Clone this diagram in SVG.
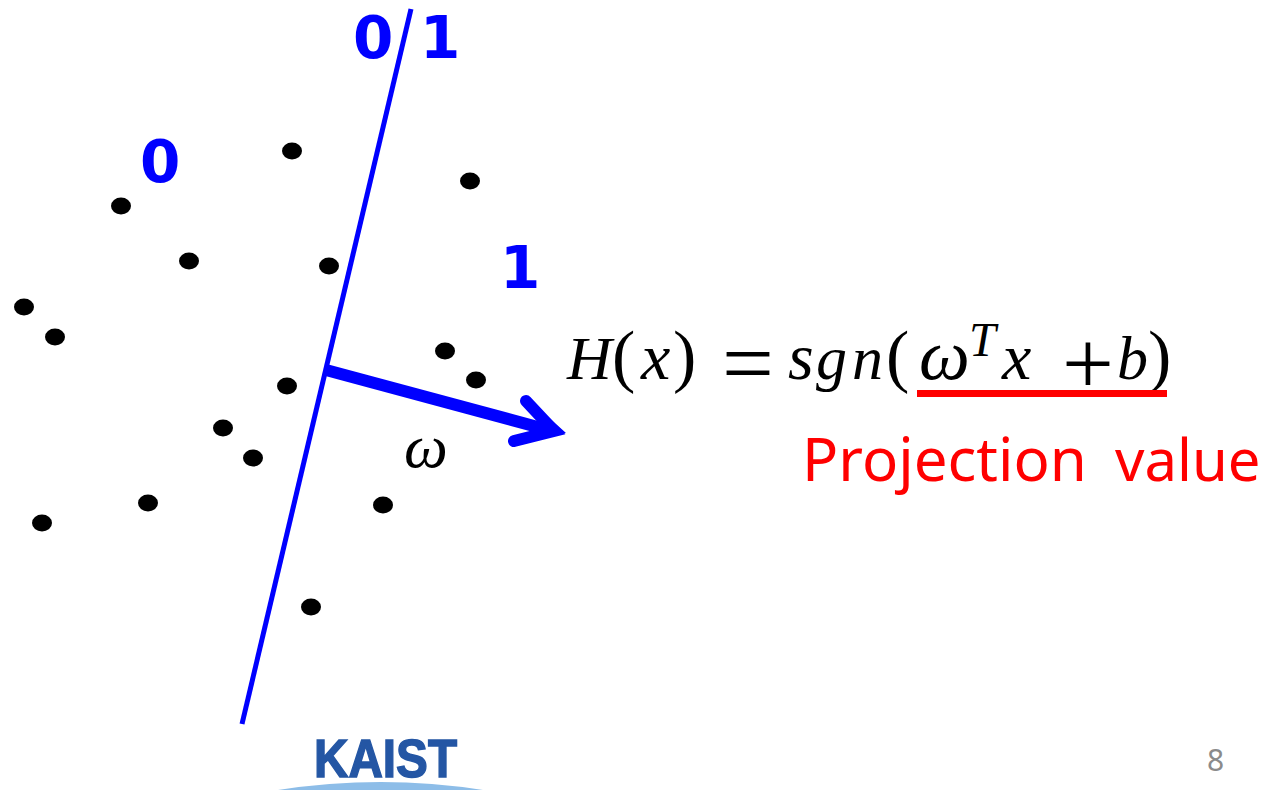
<svg xmlns="http://www.w3.org/2000/svg" width="1278" height="790" viewBox="0 0 1278 790">
<style>
.dot{fill:#000}
.b{font-family:"DejaVu Sans",sans-serif;font-weight:700;font-size:58px;fill:#0000ff}
.m{font-family:"Liberation Serif",serif;font-style:italic;fill:#000}
.u{font-family:"Liberation Serif",serif;fill:#000}
</style>
<rect width="1278" height="790" fill="#fff"/>
<g id="points">
<ellipse class="dot" cx="292" cy="151" rx="10" ry="8.500"/>
<ellipse class="dot" cx="470" cy="181" rx="10" ry="8.500"/>
<ellipse class="dot" cx="121" cy="206" rx="10" ry="8.500"/>
<ellipse class="dot" cx="189" cy="261" rx="10" ry="8.500"/>
<ellipse class="dot" cx="329" cy="266" rx="10" ry="8.500"/>
<ellipse class="dot" cx="24" cy="307" rx="10" ry="8.500"/>
<ellipse class="dot" cx="55" cy="337" rx="10" ry="8.500"/>
<ellipse class="dot" cx="445" cy="351" rx="10" ry="8.500"/>
<ellipse class="dot" cx="476" cy="380" rx="10" ry="8.500"/>
<ellipse class="dot" cx="287" cy="386" rx="10" ry="8.500"/>
<ellipse class="dot" cx="223" cy="428" rx="10" ry="8.500"/>
<ellipse class="dot" cx="253" cy="458" rx="10" ry="8.500"/>
<ellipse class="dot" cx="148" cy="503" rx="10" ry="8.500"/>
<ellipse class="dot" cx="383" cy="505" rx="10" ry="8.500"/>
<ellipse class="dot" cx="42" cy="523" rx="10" ry="8.500"/>
<ellipse class="dot" cx="311" cy="607" rx="10" ry="8.500"/>
</g>
<g id="connectors" fill="none" stroke="#0000ff" stroke-linecap="butt">
<path d="M411 9L242 724" stroke-width="5"/>
<path d="M326 370L545 429" stroke-width="12"/>
<path d="M526 401L554 431L514 441" stroke-width="12" stroke-linecap="round"/>
<path d="M526 397L566 433L512 447L540 425Z" fill="#0000ff" stroke="none"/>
</g>
<g id="labels">
<text class="b" x="353" y="58">0</text>
<text class="b" x="420" y="58">1</text>
<text class="b" x="140" y="182">0</text>
<text class="b" x="500" y="288">1</text>
<text x="404" y="467" font-family="Liberation Serif,serif" font-style="italic" font-size="62" fill="#000">ω</text>
</g>
<g id="formula">
<text class="m" x="567" y="379" font-size="62">H</text>
<text class="u" x="612" y="379" font-size="70">(</text>
<text class="m" x="641" y="379" font-size="66">x</text>
<text class="u" x="673" y="379" font-size="70">)</text>
<text class="u" x="722" y="394" font-size="92">=</text>
<text class="m" x="788" y="379" font-size="66">s</text>
<text class="m" x="816" y="379" font-size="62">g</text>
<text class="m" x="852" y="379" font-size="62">n</text>
<text class="u" x="886" y="379" font-size="70">(</text>
<text class="m" x="919" y="379" font-size="72">ω</text>
<text class="m" x="969" y="356" font-size="48">T</text>
<text class="m" x="1002" y="379" font-size="66">x</text>
<text class="u" x="1062" y="394" font-size="92">+</text>
<text class="m" x="1117" y="379" font-size="62">b</text>
<text class="u" x="1148" y="379" font-size="70">)</text>
<path d="M917 393.500H1167" stroke="#ff0000" stroke-width="7" fill="none"/>
<text y="481" font-family="Noto Sans,sans-serif" font-size="60" fill="#ff0000"><tspan x="802">Projection</tspan><tspan x="1115" font-size="58">value</tspan></text>
</g>
<g id="footer">
<path d="M278 790Q381 774 483 790Z" fill="#8dbde8"/>
<text x="314" y="777" font-family="Liberation Sans,sans-serif" font-weight="700" font-size="54" fill="#2456a4" stroke="#2456a4" stroke-width="1.500" textLength="143" lengthAdjust="spacingAndGlyphs">KAIST</text>
<text x="1207" y="771" font-family="Noto Sans,sans-serif" font-size="30" fill="#8b8b8b">8</text>
</g>
</svg>
